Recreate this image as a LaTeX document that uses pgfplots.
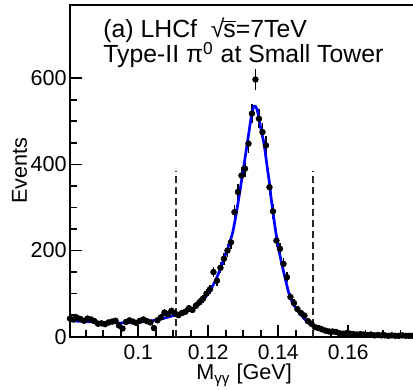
\documentclass[border=0pt]{standalone}
\usepackage{fontspec}
\setmainfont{Liberation Sans}
\usepackage{pgfplots}
\usepackage{pgfplotstable}
\pgfplotsset{compat=1.18}

\pgfplotstableread{
x y ey
0.0805 42 6.5
0.0815 40 6.3
0.0825 44 6.6
0.0835 41 6.4
0.0845 37 6.1
0.0855 42 6.5
0.0865 40 6.3
0.0875 36 6.0
0.0885 30 5.5
0.0895 31 5.6
0.0905 29 5.4
0.0915 33 5.7
0.0925 35 5.9
0.0935 37 6.1
0.0945 26 5.1
0.0955 19 4.4
0.0965 34 5.8
0.0975 38 6.2
0.0985 35 5.9
0.0995 32 5.7
0.1005 37 6.1
0.1015 40 6.3
0.1025 36 6.0
0.1035 33 5.7
0.1045 20 4.5
0.1055 38 6.2
0.1065 45 6.7
0.1075 56 7.5
0.1085 52 7.2
0.1095 60 7.7
0.1105 54 7.3
0.1115 50 7.1
0.1125 55 7.4
0.1135 58 7.6
0.1145 66 8.1
0.1155 62 7.9
0.1165 72 8.5
0.1175 80 8.9
0.1185 88 9.4
0.1195 100 10.0
0.1205 110 10.5
0.1215 150 12.2
0.1225 130 11.4
0.1235 160 12.6
0.1245 181 13.5
0.1255 200 14.1
0.1265 219 14.8
0.1275 289 17.0
0.1285 336 18.3
0.1295 374 19.3
0.1305 390 19.7
0.1315 448 21.2
0.1325 518 22.8
0.1335 597 24.4
0.1345 506 22.5
0.1355 475 21.8
0.1365 444 21.1
0.1375 347 18.6
0.1385 291 17.1
0.1395 223 14.9
0.1405 204 14.3
0.1415 169 13.0
0.1425 138 11.7
0.1435 92 9.6
0.1445 78 8.8
0.1455 64 8.0
0.1465 55 7.4
0.1475 49 7.0
0.1485 36 6.0
0.1495 30 5.5
0.1505 22 4.7
0.1515 20 4.5
0.1525 17 4.1
0.1535 14 3.7
0.1545 12 3.5
0.1555 12 3.5
0.1565 11 3.3
0.1575 8 2.8
0.1585 7 2.6
0.1595 8 2.8
0.1605 7 2.6
0.1615 6 2.4
0.1625 5 2.2
0.1635 6 2.4
0.1645 5 2.2
0.1655 4 2.0
0.1665 5 2.2
0.1675 3 1.7
0.1685 4 2.0
0.1695 3 1.7
0.1705 3 1.7
0.1715 2 1.4
0.1725 3 1.7
0.1735 2 1.4
0.1745 2 1.4
0.1755 3 1.7
0.1765 2 1.4
0.1775 2 1.4
0.1785 2 1.4
}\datatable

\begin{document}
\begin{tikzpicture}
\begin{axis}[
  name=ax,
  scale only axis,
  width=174.1pt, height=165.85pt,
  xmin=0.0805, xmax=0.18,
  ymin=0, ymax=770,
  axis line style={line width=1pt},
  xtick={0.08,0.1,0.12,0.14,0.16,0.18},
  xticklabels={,0.1,0.12,0.14,0.16,},
  ytick={0,200,400,600},
  yticklabels={0,200,400,600},
  minor x tick num=3,
  minor y tick num=3,
  xtick pos=lower, ytick pos=left,
  tick align=inside,
  major tick length=5.8pt,
  minor tick length=3.5pt,
  tick style={line width=0.8pt, black},
  /pgf/number format/assume math mode=true,
  scaled x ticks=false,
  xticklabel style={inner sep=0pt, yshift=-4pt, font=\fontsize{10.5}{12}\selectfont},
  yticklabel style={inner sep=0pt, xshift=-1.5pt, font=\fontsize{10.8}{12}\selectfont},
  clip=false,
]
\addplot[black!85, line width=1pt, dash pattern=on 3.5pt off 2pt]
  coordinates {(0.1108,0) (0.1108,385)};
\addplot[black!85, line width=1pt, dash pattern=on 3.5pt off 2pt]
  coordinates {(0.1498,0) (0.1498,385)};
\addplot[only marks, mark=*, mark size=1.4pt, black,
  error bars/.cd, y dir=both, y explicit, x dir=both, x fixed=0.0005,
  error bar style={line width=0.7pt, black}, error mark=none]
  table[x=x, y=y, y error=ey]{\datatable};
\addplot[blue, line width=1.35pt, smooth, tension=0.3] coordinates {
(0.0805,37) (0.085,35) (0.09,33) (0.095,32) (0.1,34) (0.104,37) (0.107,42)
(0.11,49) (0.112,55) (0.114,61) (0.116,67) (0.118,80) (0.119,90) (0.12,101)
(0.121,114) (0.122,129) (0.123,148) (0.124,170) (0.125,192) (0.126,215)
(0.127,242) (0.128,285) (0.129,335) (0.13,388) (0.131,440) (0.132,495)
(0.1325,520) (0.133,535) (0.1335,535) (0.134,526) (0.1345,508) (0.135,485)
(0.136,445) (0.137,385) (0.1375,357) (0.138,320) (0.139,260) (0.14,208)
(0.141,170) (0.142,135) (0.143,102) (0.144,80) (0.145,67) (0.146,57)
(0.147,46) (0.148,37) (0.149,30) (0.15,25) (0.152,18) (0.154,13) (0.156,9)
(0.158,7) (0.16,6) (0.165,4) (0.17,3) (0.175,2) (0.18,2)
};
\node[anchor=base west, inner sep=0pt, font=\fontsize{12.4}{14}\selectfont]
  at ([xshift=16.5pt,yshift=-16.5pt]rel axis cs:0,1) {(a) LHCf \ √\kern-0.5pt$\overline{\hbox{s}}$=7TeV};
\node[anchor=base west, inner sep=0pt, font=\fontsize{12.4}{14}\selectfont]
  at ([xshift=16.5pt,yshift=-29pt]rel axis cs:0,1) {Type-II π\textsuperscript{0} at Small Tower};
\node[anchor=base, inner sep=0pt, rotate=90, font=\fontsize{10.8}{12}\selectfont]
  at ([xshift=-21.5pt]rel axis cs:0,0.5) {Events};
\node[anchor=base, inner sep=0pt, font=\fontsize{10.8}{12}\selectfont]
  at ([yshift=-21.6pt]rel axis cs:0.5,0) {M\textsubscript{γγ} [GeV]};
\coordinate (bbl) at ([xshift=-35pt,yshift=-26.65pt]rel axis cs:0,0);
\coordinate (btr) at ([xshift=171.5pt,yshift=2.5pt]rel axis cs:0,1);
\end{axis}
\pgfresetboundingbox
\useasboundingbox (bbl) rectangle (btr);
\end{tikzpicture}
\end{document}
